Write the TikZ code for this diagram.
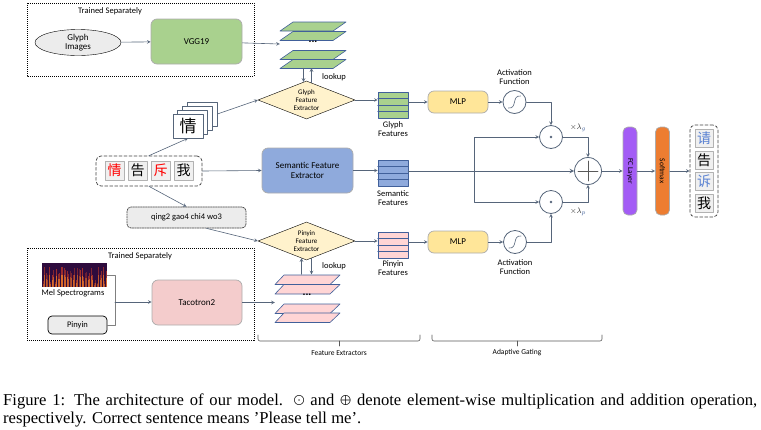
\documentclass[tikz,border=0pt]{standalone}
\usepackage{fontspec}
\setmainfont{Carlito}
\newfontfamily\capfont{Liberation Serif}
\newfontfamily\cjk{Noto Sans CJK SC}
\usetikzlibrary{shapes.geometric,calc}
\definecolor{ln}{HTML}{56657A}
\definecolor{bord}{HTML}{41609A}
\definecolor{grn}{HTML}{A9D18E}
\definecolor{blu}{HTML}{8FAADC}
\definecolor{pnk}{HTML}{FFD5D5}
\definecolor{taco}{HTML}{F4CCCC}
\definecolor{diay}{HTML}{FFF2CC}
\definecolor{mlpy}{HTML}{FFE699}
\definecolor{prp}{HTML}{A35CF5}
\definecolor{org}{HTML}{ED7D31}
\definecolor{melbg}{HTML}{2E0B3D}
\definecolor{melor}{HTML}{E8792A}
\definecolor{melrd}{HTML}{B5362A}
\definecolor{outb}{HTML}{5A82D2}
\begin{document}
\begin{tikzpicture}[x=1pt,y=-1pt,>=stealth, font=\fontsize{8.5}{9.5}\selectfont, line join=round, line cap=round,
  arr/.style={->,draw=ln,line width=0.6pt},
  lin/.style={draw=ln,line width=0.6pt},
  rbox/.style={draw=gray!65,line width=0.7pt,rounded corners=6pt,align=center,inner sep=0pt,font=\fontsize{9}{10}\selectfont},
  dia/.style={diamond,draw=black,fill=diay,aspect=2.55,inner sep=0pt,minimum width=97,minimum height=38,align=center,font=\fontsize{7}{8}\selectfont},
  feat/.style={draw=bord,line width=0.6pt,minimum width=30,minimum height=26,inner sep=0pt},
  circ/.style={circle,draw=ln,line width=0.8pt,minimum size=23,inner sep=0pt},
  chr/.style={draw=gray!60,fill=gray!12,minimum size=19,inner sep=0pt,font=\cjk\fontsize{14}{14}\selectfont},
  card/.style={draw=ln,fill=white,line width=0.6pt,minimum width=30,minimum height=24,inner sep=0pt,font=\cjk\fontsize{17}{17}\selectfont},
  trained/.style={draw=black,line width=0.6pt,line cap=butt,dash pattern=on 1pt off 1pt},
  lbl/.style={align=center,font=\fontsize{8.5}{9}\selectfont}]
\useasboundingbox (0,0) rectangle (761,429);

% glyph images, trained separately
\draw[trained] (27,3) rectangle (254,76);
\node (ts1) at (110,11) {Trained Separately};
\node[ellipse,draw=black,fill=gray!15,minimum width=86,minimum height=26,inner sep=0pt,align=center,font=\fontsize{9}{9.5}\selectfont] (gi) at (78,42.5) {Glyph\\Images};
\node[rbox,fill=grn,minimum width=91,minimum height=45] (vgg) at (196.5,41.5) {VGG19};
\node[minimum width=66,minimum height=46] (gstk) at (313,45) {};
\foreach \y in {22,31.5,50.5,59.5}
  \draw[draw=bord,fill=grn,line width=0.6pt] (293,\y) -- (346,\y) -- (333,\y+9) -- (280,\y+9) -- cycle;
\node[font=\bfseries\fontsize{11}{11}\selectfont] (gdots) at (313,42) {...};
\draw[arr] (gi) -- (vgg);
\draw[arr] (vgg) -- (gstk);

% glyph branch
\node[dia] (gd) at (306.5,100) {Glyph\\Feature\\Extractor};
\draw[arr] ($(gd.north |- gstk.south)+(-3,0)$) -- ($(gd.north)+(-3,1)$);
\draw[arr] ($(gd.north)+(5,2)$) -- ($(gd.north |- gstk.south)+(5,0)$);
\node (glk) at (334,77) {lookup};
\node[feat,fill=grn] (gf) at (393,105) {};
\foreach \i in {1,2,3}
  \draw[draw=bord,line width=0.6pt] ($(gf.north west)!\i/4!(gf.south west)$) -- ($(gf.north east)!\i/4!(gf.south east)$);
\node[lbl] (gfl) at (393,129.5) {Glyph\\Features};
\draw[arr] (gd.east) -- (gd.east -| gf.west);

% input sentence
\node[draw=gray!50!black,dash pattern=on 3pt off 2pt,line width=0.7pt,rounded corners=5pt,minimum width=106,minimum height=30] (inp) at (149,171) {};
\node[chr,text=red] (c1) at (114.5,170.5) {情};
\node[chr] (c2) at (137.5,170.5) {告};
\node[chr,text=red] (c3) at (160.5,170.5) {斥};
\node[chr] (c4) at (183.5,170.5) {我};
\foreach \k in {3,2,1}
  \node[card] (card\k) at (188+4.7*\k,126-4*\k) {};
\node[card] (card0) at (188,126) {情};
\draw[arr] (inp.north) -- (card0.south);
\draw[arr] (card3.east) -- (gd.west);
\node[draw=gray!50!black,fill=gray!15,dash pattern=on 1.5pt off 1pt,line width=0.7pt,rounded corners=4pt,minimum width=119,minimum height=21] (py) at (186.5,217.5) {qing2 gao4 chi4 wo3};
\draw[arr] (inp.south) -- (py.north);

% semantic branch
\node[rbox,fill=blu,minimum width=91,minimum height=45] (se) at (307.5,170.5) {Semantic Feature\\Extractor};
\draw[arr] (inp.east) -- (se.west);
\node[feat,fill=blu] (sf) at (393,173) {};
\foreach \i in {1,2,3}
  \draw[draw=bord,line width=0.6pt] ($(sf.north west)!\i/4!(sf.south west)$) -- ($(sf.north east)!\i/4!(sf.south east)$);
\node[lbl] (sfl) at (393,198.5) {Semantic\\Features};
\draw[arr] (se.east) -- (se.east -| sf.west);

% pinyin branch
\node[dia] (pd) at (306.5,241) {Pinyin\\Feature\\Extractor};
\draw[arr] ($(py.south)+(20,0)$) -- (pd.west);
\node[feat,fill=pnk] (pf) at (393,245) {};
\foreach \i in {1,2,3}
  \draw[draw=bord,line width=0.6pt] ($(pf.north west)!\i/4!(pf.south west)$) -- ($(pf.north east)!\i/4!(pf.south east)$);
\node[lbl] (pfl) at (393,268) {Pinyin\\Features};
\draw[arr] (pd.east) -- (pd.east -| pf.west);

% pinyin audio, trained separately
\draw[trained] (27,248) rectangle (254,340);
\node (ts2) at (140,256) {Trained Separately};
\node[fill=melbg,minimum width=65,minimum height=24,inner sep=0pt] (mel) at (74.5,275) {};
\pgfmathsetseed{3}
\foreach \i in {0,...,42}{
  \pgfmathsetmacro\h{4+17*rnd}
  \pgfmathsetmacro\o{0.35+0.5*rnd}
  \fill[melrd,opacity=\o] (42.5+\i*1.5,287) rectangle ++(1,-\h);
  \fill[melor,opacity=\o] (42.5+\i*1.5,287) rectangle ++(1,-0.6*\h);
}
\node (mell) at (73,293) {Mel Spectrograms};
\node[rbox,fill=gray!15,draw=black,minimum width=59,minimum height=18,rounded corners=4pt,font=\fontsize{8.5}{9}\selectfont] (pin) at (77.5,325) {Pinyin};
\coordinate (brk) at (115,302);
\draw[draw=gray,line width=0.6pt] (mel.east) -- (brk |- mel.east) -- (brk |- pin.east) -- (pin.east);
\node[rbox,fill=taco,minimum width=90,minimum height=45] (tac) at (197,302.5) {Tacotron2};
\draw[arr] (brk) -- (brk -| tac.west);
\node[minimum width=65,minimum height=48] (pstk) at (307.5,298.5) {};
\foreach \y in {275,284.5,304,313}
  \draw[draw=bord,fill=pnk,line width=0.6pt] (284,\y) -- (340,\y) -- (330,\y+9.5) -- (275,\y+9.5) -- cycle;
\node[font=\bfseries\fontsize{11}{11}\selectfont] (pdots) at (307,295) {...};
\draw[arr] (tac) -- (tac -| pstk.west);
\draw[arr] ($(pd.south |- pstk.north)+(-5,0)$) -- ($(pd.south)+(-5,-2)$);
\draw[arr] ($(pd.south)+(5,-2)$) -- ($(pd.south |- pstk.north)+(5,0)$);
\node (plk) at (334,266) {lookup};

% adaptive gating
\node[rbox,fill=mlpy,minimum width=60,minimum height=22] (m1) at (458,102) {MLP};
\node[rbox,fill=mlpy,minimum width=60,minimum height=22] (m2) at (458,242) {MLP};
\node[circ] (a1) at (514.5,102) {};
\node[circ] (a2) at (515,242) {};
\draw[lin] ($(a1)+(-6,6)$) .. controls ($(a1)+(3,7)$) and ($(a1)+(-3,-7)$) .. ($(a1)+(6,-6)$);
\draw[lin] ($(a2)+(-6,6)$) .. controls ($(a2)+(3,7)$) and ($(a2)+(-3,-7)$) .. ($(a2)+(6,-6)$);
\node[lbl] (a1l) at (514.5,77.5) {Activation\\Function};
\node[lbl] (a2l) at (515,267) {Activation\\Function};
\node[circ] (d1) at (551,137) {};
\node[circ] (d2) at (551,202) {};
\fill[ln] (d1) circle (1.3);
\fill[ln] (d2) circle (1.3);
\node[circle,draw=ln,line width=0.8pt,minimum size=27,inner sep=0pt] (pl) at (588,171) {};
\draw[draw=gray!70!black,line width=0.8pt] ($(pl)+(-10,0)$) -- ($(pl)+(10,0)$) ($(pl)+(0,-10)$) -- ($(pl)+(0,10)$);
\node[text=black!80,font=\fontsize{8.5}{8.5}\selectfont] (lg) at (578,128) {$\times\lambda_{\color{bord}g}$};
\node[text=black!80,font=\fontsize{8.5}{8.5}\selectfont] (lp) at (578,212) {$\times\lambda_{\color{bord}p}$};
\draw[arr] (m1.west -| gf.east) -- (m1.west);
\draw[arr] (m2.west -| pf.east) -- (m2.west);
\draw[arr] (m1) -- (a1);
\draw[arr] (m2) -- (a2);
\draw[arr] (a1) -| (d1);
\draw[arr] (a2) -| (d2);
\coordinate (br) at (474,171);
\draw[arr,line width=1pt] (sf.east |- pl) -- (pl);
\draw[arr] (br) |- (d1);
\draw[arr] (br) |- (d2);
\draw[arr] (d1) -| (pl);
\draw[arr] (d2) -| (pl);

% output
\node[rbox,fill=prp,minimum width=88,minimum height=14,rotate=-90,rounded corners=5pt,font=\fontsize{7.5}{8}\selectfont] (fc) at (630,171) {FC Layer};
\node[rbox,fill=org,minimum width=88,minimum height=14,rotate=-90,rounded corners=5pt,font=\fontsize{7.5}{8}\selectfont] (sm) at (662.5,171) {Softmax};
\node[draw=gray!50!black,dash pattern=on 3pt off 2pt,line width=0.7pt,rounded corners=5pt,minimum width=28,minimum height=92] (out) at (704,171) {};
\node[chr,minimum size=18,text=outb] (o1) at (704,138.5) {请};
\node[chr,minimum size=18] (o2) at (704,160.5) {告};
\node[chr,minimum size=18,text=outb] (o3) at (704,181.5) {诉};
\node[chr,minimum size=18] (o4) at (704,203) {我};
\draw[arr] (pl) -- (fc);
\draw[arr] (fc) -- (sm);
\draw[arr] (sm) -- (out);

% braces
\draw[draw=gray!70!black,line width=0.6pt,rounded corners=2pt] (258,335) |- (420,341) -- (420,335);
\draw[draw=gray!70!black,line width=0.6pt] (339,341) -- (339,346);
\node[font=\fontsize{7.5}{8}\selectfont] (fe) at (339,353) {Feature Extractors};
\draw[draw=gray!70!black,line width=0.6pt,rounded corners=2pt] (432,335) |- (602,341) -- (602,335);
\draw[draw=gray!70!black,line width=0.6pt] (517,341) -- (517,346);
\node[font=\fontsize{7.5}{8}\selectfont] (ag) at (517,353) {Adaptive Gating};

% caption
\node[anchor=base west,inner sep=0pt,font=\capfont\fontsize{16.6}{18}\selectfont] (cap1) at (3,405) {\makebox[754pt][s]{Figure 1: The architecture of our model. $\bigodot$ and $\bigoplus$ denote element-wise multiplication and addition operation,}};
\node[anchor=base west,inner sep=0pt,font=\capfont\fontsize{16.6}{18}\selectfont] (cap2) at (3,423) {respectively. Correct sentence means ’Please tell me’.};
\end{tikzpicture}
\end{document}
